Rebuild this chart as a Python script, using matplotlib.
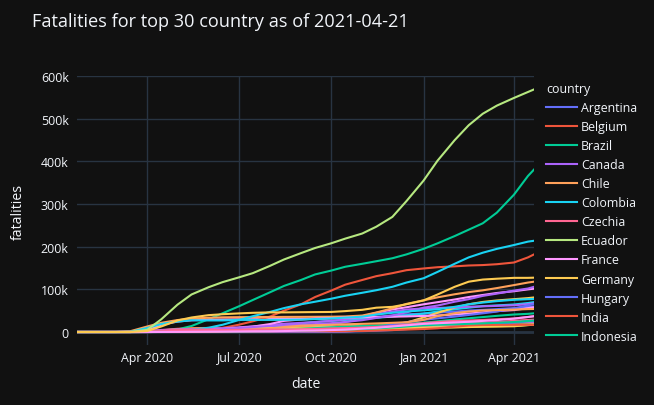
import matplotlib
matplotlib.use("Agg")
import matplotlib.pyplot as plt
from matplotlib.ticker import FixedLocator
import pandas as pd

dates = ["2020-01-22", "2020-02-15", "2020-03-01", "2020-03-15",
         "2020-04-01", "2020-04-15", "2020-05-01", "2020-05-15",
         "2020-06-01", "2020-06-15", "2020-07-01", "2020-07-15",
         "2020-08-01", "2020-08-15", "2020-09-01", "2020-09-15",
         "2020-10-01", "2020-10-15", "2020-11-01", "2020-11-15",
         "2020-12-01", "2020-12-15", "2021-01-01", "2021-01-15",
         "2021-02-01", "2021-02-15", "2021-03-01", "2021-03-15",
         "2021-04-01", "2021-04-15", "2021-04-21"]

# fatalities in thousands
argentina = [0,0,0,0,0.02,0.1,0.2,0.4,0.6,0.8,1.3,2.1,3.6,5,8.3,11.7,16.5,23.2,30.8,35.4,38.5,41.4,43.3,45.1,47.9,50.4,51.8,53.6,56.0,59,60]
belgium = [0,0,0,0,0.8,4.4,7.6,9,9.5,9.7,9.8,9.8,9.8,9.9,9.9,10,10,10.4,11.7,14,16.4,18.2,19.5,20.4,21,21.5,22,22.5,22.9,23.5,23.8]
brazil = [0,0,0,0,0.2,1.7,6,14,30,44,60,75,93,108,122,135,144,153,160,166,173,182,195,208,225,240,255,280,322,366,381]
canada = [0,0,0,0,0.1,1.0,2.9,5.5,7.3,8.1,8.6,8.8,8.9,9.0,9.1,9.2,9.3,9.6,10.1,10.9,12,13.3,15.6,17.7,19.6,21,21.7,22.4,22.9,23.4,23.6]
chile = [0,0,0,0,0.02,0.1,0.2,0.4,1.1,3.4,6,7.3,9.5,10.6,11.4,12.2,12.8,13.4,14.2,14.9,15.6,16.1,16.6,17.2,18,19.2,20.3,21.5,22.9,25,25.6]
colombia = [0,0,0,0,0.02,0.1,0.3,0.6,1.1,1.9,3.7,6.3,10.3,15,20.3,23.6,25.8,28.3,30.5,33.3,36.2,39.2,43,48,53.3,57,60.7,62.4,64.5,68,70]
czechia = [0,0,0,0,0.02,0.2,0.25,0.3,0.33,0.33,0.35,0.36,0.38,0.4,0.42,0.5,0.7,1.2,3.3,5.5,7.6,9.0,11.6,14,16.4,18,19.8,23,26.3,28.2,28.9]
ecuador = [0,0,0,0,0.1,0.5,1.6,2.9,3.5,4.1,4.6,5.1,5.7,6.1,6.6,10.9,11.3,12.2,12.7,13,13.4,13.9,14.0,14.3,15,15.4,15.9,16.6,17.3,18.2,18.5]
france = [0,0,0,0.1,4,17.2,24.4,27.5,28.8,29.4,29.8,30,30.3,30.4,30.7,31,32,33,36.8,45,52.8,58,64.9,70,76.2,82,86.8,91.5,95.6,100,101.6]
germany = [0,0,0,0,0.9,3.8,6.6,7.9,8.6,8.9,9.0,9.1,9.2,9.3,9.3,9.4,9.5,9.7,10.5,13,16.6,22,34,45,57,65,70.5,74,77,79.5,81]
hungary = [0,0,0,0,0.01,0.1,0.3,0.45,0.5,0.55,0.58,0.6,0.6,0.61,0.62,0.7,0.9,1.2,2.0,3.0,4.6,6.8,9.5,10.7,12.8,13.8,15.3,18.5,21.6,25,26]
india = [0,0,0,0,0.04,0.4,1.1,2.8,5.4,9.5,17,25,36,50,65,82,97,111,122,131,138,145,149,152,154,156,157,159,163,175,182]
indonesia = [0,0,0,0,0.14,0.47,0.8,1.1,1.6,2.2,3.0,3.7,5.1,6.3,7.6,8.9,10.9,12.3,13.9,15,17.1,18.9,22.1,25.2,29.3,32.2,35,37.9,41,42.6,43.8]
iran = [0,0,0.05,0.7,3.0,4.8,6.1,6.9,7.8,8.8,10.8,13.2,16.1,19.3,21.4,23.3,26.2,29.6,35.3,41.5,47.9,52.7,55.2,56.4,57.8,59.3,60.2,61.3,62.6,65.3,67.1]
italy = [0,0,0.03,1.8,13,21.6,28,31.6,33.4,34.4,34.8,35,35.1,35.4,35.5,35.7,35.9,36.4,38.6,45.7,55.6,65.9,74.2,81.3,88.5,93.6,97.7,103,110,116,118]
mexico = [0,0,0,0,0.03,0.4,2,5,10,17,28,37,47,56,65,71,78,85,92,98,106,116,126,141,160,175,186,195,204,212,214]
netherlands = [0,0,0,0.01,1.2,3.3,4.9,5.7,6,6.1,6.1,6.1,6.2,6.2,6.2,6.3,6.4,6.8,7.5,8.4,9.3,10.1,11.5,12.8,13.8,14.6,15.3,16,16.6,17,17.2]
pakistan = [0,0,0,0,0.03,0.1,0.4,0.8,1.6,2.8,4.3,5.1,5.8,6.1,6.3,6.4,6.5,6.6,6.8,7.1,7.9,9.1,10.2,10.9,11.5,12.2,12.9,13.6,14.4,16.2,17.1]
peru = [0,0,0,0,0.03,0.4,1.1,2.5,4.4,6.9,9.7,12.6,18.6,26,29.4,31.5,32.6,33.9,34.7,35.3,35.9,36.5,37.7,38.8,40.9,43.3,46,49,51.4,56,58]
philippines = [0,0,0,0,0.1,0.4,0.6,0.8,1.0,1.1,1.3,1.6,2.0,2.6,3.7,4.6,5.3,6.5,7.2,7.6,8.3,8.8,9.2,9.9,10.8,11.6,12.5,12.8,13.4,16.4,17.0]
poland = [0,0,0,0,0.03,0.3,0.6,0.9,1.1,1.2,1.4,1.6,1.7,1.9,2.0,2.2,2.6,3.3,5.5,11,17,22.9,28.6,32,36.1,40,43.8,48,55,62.6,65.4]
portugal = [0,0,0,0,0.2,0.6,1.0,1.2,1.4,1.5,1.6,1.7,1.7,1.8,1.8,1.9,2.0,2.1,2.5,3.3,4.5,5.6,6.9,8.7,12.5,15.3,16.4,16.7,16.8,16.9,16.9]
romania = [0,0,0,0,0.07,0.4,0.6,0.8,1.2,1.4,1.7,2.1,2.3,2.7,3.5,4.1,4.8,5.5,7,8.6,10.6,12.9,15.8,17,18,19.2,20.3,21.6,23.4,25.8,26.8]
russia = [0,0,0,0,0.02,0.17,1.2,2.4,4.7,6.9,9.3,11.6,14,15.6,17.1,18.6,20.7,23.5,27.7,33,39,46,57,62,71,77,84.7,90,97,102,106]
south_africa = [0,0,0,0,0.005,0.03,0.1,0.25,0.7,1.5,2.7,4.4,8.2,11.7,14.9,15.9,17,18.1,19.1,20.1,21.5,22.9,28.5,37.1,44.2,48,50.4,51.3,52.6,53.7,54]
spain = [0,0,0,0.3,9.4,18.8,24.5,27.5,27.1,27.1,28.4,28.4,28.4,28.6,29,30.4,31.8,33.6,35.9,41,45,48,50.8,53.3,59,65,69,72.4,75.5,77,77.6]
turkey = [0,0,0,0,0.2,1.6,3.2,4.1,4.6,4.8,5.1,5.4,5.7,5.9,6.4,7.0,8.4,9.0,10.4,11.8,13.7,17.6,20.9,23.5,26,27,28.3,29.9,31.7,35,37]
us = [0,0,0,0.07,5.1,30,64,88,105,117,128,138,155,170,185,197,208,219,231,247,270,307,355,402,450,485,512,531,549,563,569]
ukraine = [0,0,0,0,0.02,0.1,0.3,0.5,0.7,0.9,1.2,1.6,1.8,2.2,3.1,3.5,4.5,5.5,7.8,9.8,13,15.7,19,20.5,22.5,24,26,28,31.3,35.3,37]
united_kingdom = [0,0,0,0.02,2.4,13,27,34,39.5,41.7,43.6,45,46,46,46.4,46.7,47,49,52,57,59,65,74,88,106,118,123,125,127,127,127.4]

countries = ["Argentina", "Belgium", "Brazil", "Canada", "Chile", "Colombia",
             "Czechia", "Ecuador", "France", "Germany", "Hungary", "India",
             "Indonesia", "Iran", "Italy", "Mexico", "Netherlands", "Pakistan",
             "Peru", "Philippines", "Poland", "Portugal", "Romania", "Russia",
             "South Africa", "Spain", "Turkey", "US", "Ukraine", "United Kingdom"]
series = [argentina, belgium, brazil, canada, chile, colombia, czechia, ecuador,
          france, germany, hungary, india, indonesia, iran, italy, mexico,
          netherlands, pakistan, peru, philippines, poland, portugal, romania,
          russia, south_africa, spain, turkey, us, ukraine, united_kingdom]

ytick_vals = [0, 100000, 200000, 300000, 400000, 500000, 600000]
ytick_labels = ["0", "100k", "200k", "300k", "400k", "500k", "600k"]
xtick_dates = ["2020-04-01", "2020-07-01", "2020-10-01", "2021-01-01", "2021-04-01"]
xtick_labels = ["Apr 2020", "Jul 2020", "Oct 2020", "Jan 2021", "Apr 2021"]

palette = ["#636EFA", "#EF553B", "#00CC96", "#AB63FA", "#FFA15A",
           "#19D3F3", "#FF6692", "#B6E880", "#FF97FF", "#FECB52"]

BG = "#111111"
GRID = "#283442"
TXT = "#f2f5fa"

plt.rcParams['font.family'] = ['Open Sans', 'DejaVu Sans']

fig = plt.figure(figsize=(6.54, 4.06), dpi=100, facecolor=BG)
ax = fig.add_axes([77/654, 60/406, (534-77)/654, (346-77)/406])
ax.set_facecolor(BG)

x = pd.to_datetime(dates)
handles = []
for i, (name, vals) in enumerate(zip(countries, series)):
    h, = ax.plot(x, [v * 1000 for v in vals], color=palette[i % 10], lw=1.5,
                 label=name, zorder=3 + i * 0.01, solid_joinstyle='round')
    handles.append(h)

ax.set_xlim(x[0], x[-1])
ax.set_ylim(-30500, 600500)
ax.yaxis.set_major_locator(FixedLocator(ytick_vals))
ax.set_yticklabels(ytick_labels)
ax.set_xticks(pd.to_datetime(xtick_dates))
ax.set_xticklabels(xtick_labels)
ax.grid(True, color=GRID, lw=1, zorder=0)
ax.axhline(0, color=GRID, lw=2, zorder=1)
for s in ax.spines.values():
    s.set_visible(False)
ax.tick_params(axis='x', length=0, colors=TXT, labelsize=8.9, pad=4)
ax.tick_params(axis='y', length=0, colors=TXT, labelsize=8.9, pad=6)

ax.set_xlabel("date", color=TXT, fontsize=10.2, labelpad=9)
ax.set_ylabel("fatalities", color=TXT, fontsize=10.2, labelpad=11)

fig.text(32/654, 1 - 22/406, "Fatalities for top 30 country as of 2021-04-21",
         color=TXT, fontsize=13.1, va="center", ha="left")

leg = fig.legend(handles=handles[:13], loc="upper left",
                 bbox_to_anchor=(541/654, 1 - 78/406), frameon=False,
                 fontsize=8.9, title="country", title_fontsize=8.9,
                 handlelength=2.5, handletextpad=0.35, labelspacing=0.49,
                 alignment="left", borderaxespad=0)
for t in leg.get_texts():
    t.set_color(TXT)
leg.get_title().set_color(TXT)

fig.savefig("out.png", dpi=100, facecolor=BG)
